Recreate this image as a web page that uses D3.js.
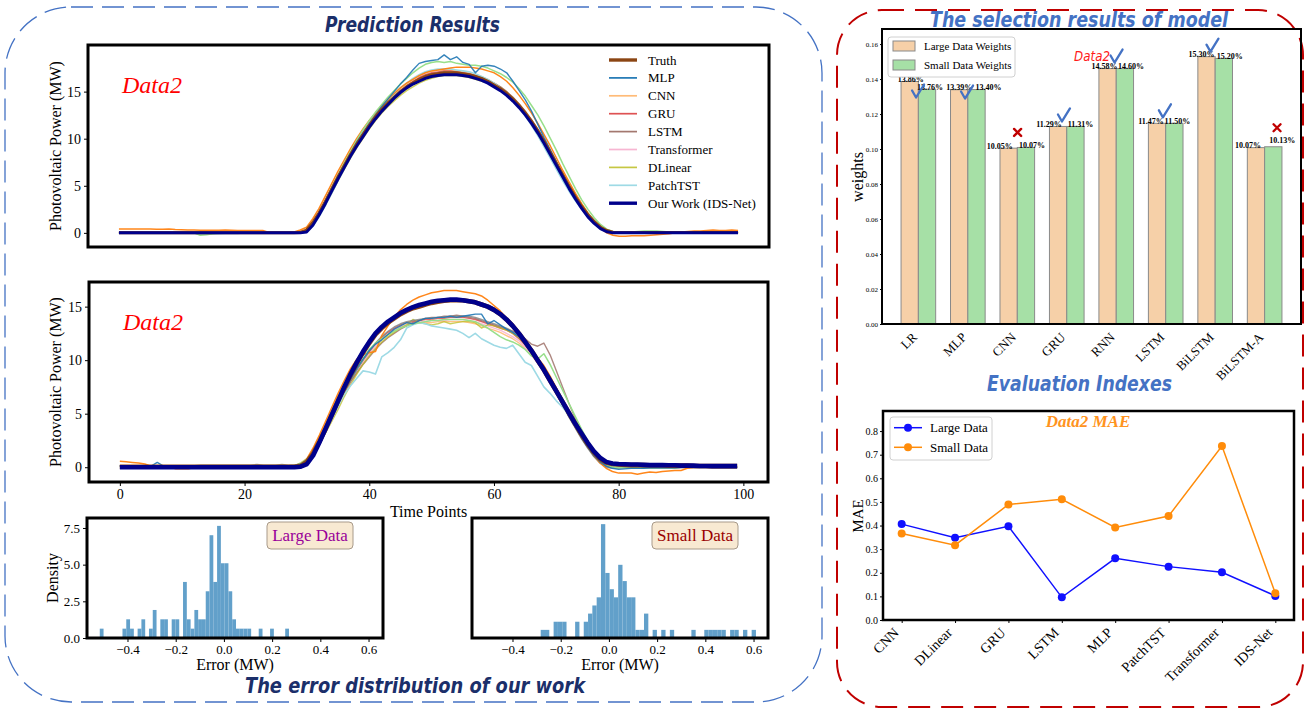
<!DOCTYPE html>
<html lang="en">
<head>
<meta charset="utf-8">
<title>IDS-Net prediction results</title>
<script src="https://cdn.jsdelivr.net/npm/d3@7"></script>
<style>
  body { margin: 0; background: #fff; }
  svg { display: block; }
</style>
</head>
<body>
<script>
// ================= data =================

// --- Data2, upper prediction plot (100 time points) ---
var truthA = [0.02,0.02,0.02,0.02,0.02,0.02,0.02,0.02,0.02,0.02,
  0.01,0.01,0.01,0.01,0.01,0.01,0.01,0.01,0.01,0.01,
  0.01,0.01,0.01,0.01,0.01,0.01,0.01,0.01,0.02,0.05,
  0.3,1.1,2.1,3.3,4.6,5.9,7.1,8.3,9.4,10.4,
  11.4,12.3,13.1,13.8,14.4,15.0,15.5,15.9,16.3,16.6,
  16.8,16.9,17.0,17.0,17.0,16.9,16.8,16.6,16.4,16.1,
  15.7,15.3,14.8,14.2,13.5,12.7,11.8,10.8,9.7,8.5,
  7.3,6.1,4.9,3.8,2.8,1.9,1.2,0.6,0.25,0.08,
  0.03,0.03,0.03,0.03,0.03,0.03,0.03,0.03,0.03,0.03,
  0.03,0.03,0.03,0.03,0.03,0.03,0.03,0.03,0.03,0.03];
var oursA = [0,0,0,0,0,0,0,0,0,0,
  0,0,0,0,0,0,0,0,0,0,
  0,0,0,0,0,0,0,0,0,0,
  0.1,0.8,1.9,3.1,4.4,5.7,6.9,8.1,9.2,10.2,
  11.2,12.1,12.9,13.6,14.3,14.9,15.4,15.8,16.1,16.4,
  16.6,16.7,16.8,16.8,16.8,16.7,16.6,16.4,16.2,15.9,
  15.5,15.1,14.6,14.0,13.3,12.5,11.6,10.6,9.5,8.3,
  7.1,5.9,4.7,3.6,2.6,1.7,1.0,0.45,0.12,0,
  0,0,0,0,0,0,0,0,0,0,
  0,0,0,0,0,0,0,0,0,0];
var mlpA = [-0.05,-0.05,-0.05,-0.05,-0.05,-0.05,-0.05,-0.05,-0.05,-0.05,
  -0.05,-0.05,-0.05,-0.05,-0.05,-0.05,-0.05,-0.05,-0.05,-0.05,
  -0.05,-0.05,-0.05,-0.05,-0.05,-0.05,-0.05,-0.05,0,0.05,
  0.3,1.1,2.2,3.4,4.7,6.0,7.2,8.4,9.6,10.6,
  11.6,12.5,13.4,14.2,15.0,15.8,16.5,17.3,18.0,18.2,
  18.3,18.4,18.9,18.4,18.7,18.1,17.9,17.0,17.7,17.8,
  17.7,17.4,17.0,16.1,15.1,14.1,12.9,11.5,10.1,8.8,
  7.5,6.2,5.0,3.9,2.9,2.0,1.2,0.6,0.2,0.05,
  0.02,0.02,0.02,0.02,0.02,0.02,0.02,0.02,0.02,0.02,
  0,0,0,0,0,0,0,0,0,0];
var cnnA = [0.05,0.05,0.05,0.05,0.05,0.05,0.05,0.05,0.05,0.05,
  0.05,0.05,0.05,0.05,0.05,0.05,0.05,0.05,0.05,0.05,
  0.05,0.05,0.05,0.05,0.05,0.05,0.05,0.05,0.05,0.1,
  0.2,0.9,2.0,3.2,4.5,5.8,7.1,8.3,9.5,10.6,
  11.6,12.5,13.3,14.0,14.7,15.3,15.8,16.3,16.7,17.0,
  17.2,17.3,17.3,17.3,17.2,17.1,17.0,16.8,16.6,16.3,
  15.9,15.5,15.0,14.4,13.7,12.9,12.0,11.0,9.9,8.7,
  7.5,6.3,5.1,4.0,3.0,2.1,1.3,0.7,0.3,0.1,
  0.05,0.05,0.05,0.05,0.05,0.05,0.05,0.05,0.05,0.05,
  0.05,0.05,0.05,0.05,0.05,0.05,0.05,0.05,0.05,0.05];
var gruA = [0.05,0.05,0.05,0.05,0.05,0.05,0.05,0.05,0.05,0.05,
  0.05,0.05,0.05,0.05,0.05,0.05,0.05,0.05,0.05,0.05,
  0.05,0.05,0.05,0.05,0.05,0.05,0.05,0.05,0.05,0.1,
  0.3,1.0,2.1,3.3,4.6,5.9,7.1,8.3,9.4,10.5,
  11.5,12.4,13.2,13.9,14.5,15.1,15.6,16.1,16.5,16.8,
  17.0,17.1,17.2,17.2,17.1,17.0,16.9,16.7,16.5,16.2,
  15.8,15.4,14.9,14.3,13.6,12.8,11.9,10.9,9.8,8.6,
  7.4,6.2,5.0,3.9,2.9,2.0,1.2,0.6,0.25,0.05,
  0.05,0.05,0.05,0.05,0.05,0.05,0.05,0.05,0.05,0.05,
  0.05,0.05,0.05,0.05,0.05,0.05,0.05,0.05,0.05,0.05];
var lstmA = [0.05,0.05,0.05,0.05,0.05,0.05,0.05,0.05,0.05,0.05,
  0.05,0.05,0.05,0.05,0.05,0.05,0.05,0.05,0.05,0.05,
  0.05,0.05,0.05,0.05,0.05,0.05,0.05,0.05,0.05,0.1,
  0.3,1.1,2.2,3.4,4.7,6.0,7.2,8.3,9.4,10.4,
  11.3,12.2,13.0,13.7,14.4,15.0,15.6,16.0,16.4,16.7,
  16.9,17.0,17.1,17.1,17.0,16.9,16.8,16.7,16.5,16.2,
  15.9,15.5,15.0,14.4,13.7,12.9,12.0,11.0,9.9,8.7,
  7.5,6.3,5.1,4.0,3.0,2.1,1.3,0.7,0.3,0.1,
  0.05,0.05,0.05,0.05,0.05,0.05,0.05,0.05,0.05,0.05,
  0.05,0.05,0.05,0.05,0.05,0.05,0.05,0.05,0.05,0.05];
var transA = [0.05,0.05,0.05,0.05,0.05,0.05,0.05,0.05,0.05,0.05,
  0.05,0.05,0.05,0.05,0.05,0.05,0.05,0.05,0.05,0.05,
  0.05,0.05,0.05,0.05,0.05,0.05,0.05,0.05,0.05,0.1,
  0.2,0.9,1.9,3.1,4.4,5.7,6.9,8.1,9.2,10.2,
  11.2,12.1,12.9,13.6,14.3,14.9,15.4,15.9,16.3,16.6,
  16.8,16.9,17.0,17.0,16.9,16.8,16.7,16.5,16.3,16.0,
  15.6,15.2,14.7,14.1,13.4,12.6,11.7,10.7,9.6,8.4,
  7.2,6.0,4.8,3.7,2.7,1.8,1.1,0.5,0.15,0,
  0.05,0.05,0.05,0.05,0.05,0.05,0.05,0.05,0.05,0.05,
  0.05,0.05,0.05,0.05,0.05,0.05,0.05,0.05,0.05,0.05];
var dlinA = [0.05,0.05,0.05,0.05,0.05,0.05,0.05,0.05,0.05,0.05,
  0.05,0.05,0.05,0.05,0.05,0.05,0.05,0.05,0.05,0.05,
  0.05,0.05,0.05,0.05,0.05,0.05,0.05,0.05,0.05,0.1,
  0.2,0.8,1.8,3.0,4.2,5.5,6.7,7.9,9.0,10.0,
  11.0,11.9,12.7,13.4,14.0,14.6,15.1,15.5,15.9,16.2,
  16.4,16.6,16.7,16.7,16.7,16.6,16.5,16.3,16.1,15.9,
  15.5,15.1,14.6,14.0,13.3,12.5,11.6,10.6,9.6,8.5,
  7.3,6.1,5.0,3.9,2.9,2.0,1.3,0.7,0.3,0.1,
  0.05,0.05,0.05,0.05,0.05,0.05,0.05,0.05,0.05,0.05,
  0.05,0.05,0.05,0.05,0.05,0.05,0.05,0.05,0.05,0.05];
var patchA = [0,0,0,0,0,0,0,0,0,0,
  0,0,0,-0.15,-0.15,-0.1,-0.1,-0.05,-0.05,-0.05,
  0,0,0,0,0,0,0,0,0,0,
  0.1,0.7,1.7,2.9,4.2,5.5,6.8,8.0,9.2,10.3,
  11.3,12.2,13.1,13.9,14.7,15.4,15.9,16.4,16.8,17.1,
  17.3,17.4,17.4,17.4,17.3,17.2,17.1,16.9,16.6,16.3,
  15.9,15.4,14.8,14.1,13.3,12.4,11.4,10.3,9.1,7.9,
  6.7,5.5,4.4,3.4,2.5,1.7,1.0,0.5,0.15,0,
  0,0,0,0,0,0,0,0,0,0,
  0,0,0,0,0,0,0,0,0,0];
var orangeA = [0.42,0.42,0.40,0.40,0.42,0.40,0.38,0.38,0.42,0.35,
  0.33,0.30,0.30,0.28,0.28,0.28,0.28,0.30,0.28,0.25,
  0.25,0.25,0.25,0.25,0.05,0.05,0.05,0.05,0.1,0.3,
  0.6,1.5,2.6,3.9,5.2,6.5,7.7,8.9,10.0,11.0,
  11.9,12.7,13.5,14.2,14.8,15.4,15.9,16.3,16.7,17.0,
  17.2,17.3,17.4,17.5,17.6,17.6,17.6,17.5,17.4,17.2,
  17.0,16.6,16.1,15.4,14.6,13.7,12.7,11.6,10.4,9.2,
  7.9,6.6,5.4,4.2,3.1,2.1,1.2,0.5,0,-0.25,
  -0.35,-0.35,-0.3,-0.3,-0.3,-0.25,-0.2,-0.15,-0.1,0,
  0.1,0.15,0.2,0.2,0.25,0.3,0.25,0.25,0.3,0.25];
var greenA = [0,0,0,0,0,0,0,0,0,0,
  0,0,0,-0.25,-0.2,-0.1,-0.05,-0.05,-0.05,-0.05,
  -0.05,-0.05,-0.05,-0.05,-0.05,-0.05,-0.05,-0.05,0,0.1,
  0.3,1.0,2.1,3.4,4.8,6.1,7.4,8.6,9.8,10.9,
  11.9,12.8,13.6,14.4,15.1,15.8,16.4,17.0,17.5,17.9,
  18.1,18.2,18.1,18.2,18.0,17.9,17.8,17.8,17.7,17.5,
  17.2,16.9,16.5,16.0,15.3,14.5,13.5,12.5,11.3,10.0,
  8.7,7.3,6.0,4.7,3.5,2.5,1.6,0.9,0.4,0.15,
  0.1,0.1,0.1,0.15,0.2,0.2,0.2,0.15,0.1,0.1,
  0.1,0.1,0.1,0.1,0.1,0.1,0.1,0.1,0.1,0.1];
var grayA = [0,0,0,0,0,0,0,0,0,0,
  0,0,0,0,0,0,0,0,0,0,
  0,0,0,0,0,0,0,0,0.05,0.1,
  0.3,1.0,2.0,3.2,4.5,5.8,7.0,8.1,9.2,10.2,
  11.1,12.0,12.8,13.5,14.2,14.8,15.3,15.8,16.2,16.5,
  16.7,16.8,16.9,17.0,17.0,16.9,16.8,16.6,16.4,16.2,
  15.8,15.4,14.9,14.3,13.6,12.8,11.9,10.9,9.8,8.6,
  7.4,6.2,5.0,3.9,2.9,2.0,1.2,0.6,0.2,0.05,
  0.05,0.05,0.05,0.05,0.05,0.05,0.05,0.05,0.05,0.05,
  0.05,0.05,0.05,0.05,0.05,0.05,0.05,0.05,0.05,0.05];

// --- Data2, lower prediction plot ---
var truthB = [0.05,0.05,0.05,0.05,0.05,0.05,0.05,0.05,0.05,0.05,
  0.05,0.05,0.05,0.05,0.05,0.05,0.05,0.05,0.05,0.05,
  0.05,0.05,0.05,0.05,0.05,0.05,0.05,0.05,0.05,0.1,
  0.5,1.3,2.4,3.6,4.9,6.2,7.4,8.6,9.7,10.7,
  11.6,12.4,13.0,13.5,13.9,14.3,14.6,14.85,15.0,15.2,
  15.35,15.45,15.55,15.6,15.6,15.6,15.5,15.4,15.2,15.0,
  14.7,14.3,13.8,13.2,12.5,11.7,10.9,10.0,9.1,8.1,
  7.1,6.1,5.1,4.1,3.1,2.2,1.4,0.8,0.45,0.3,
  0.25,0.22,0.2,0.2,0.2,0.18,0.18,0.18,0.15,0.15,
  0.15,0.15,0.12,0.12,0.12,0.1,0.1,0.1,0.1,0.1];
var oursB = [0,0,0,0,0,0,0,0,0,0,
  0,0,0,0,0,0,0,0,0,0,
  0,0,0,0,0,0,0,0,0,0.05,
  0.3,1.1,2.3,3.6,4.9,6.2,7.5,8.7,9.8,10.8,
  11.7,12.5,13.1,13.6,14.0,14.4,14.7,14.95,15.15,15.3,
  15.45,15.55,15.6,15.65,15.65,15.6,15.5,15.4,15.2,15.0,
  14.7,14.3,13.8,13.2,12.5,11.7,10.9,10.0,9.1,8.1,
  7.1,6.1,5.1,4.1,3.2,2.3,1.5,0.9,0.5,0.35,
  0.3,0.28,0.25,0.25,0.22,0.2,0.2,0.2,0.18,0.18,
  0.15,0.15,0.15,0.12,0.12,0.1,0.1,0.1,0.1,0.1];
var mlpB = [0.15,0.1,0.1,0.05,0.05,0.1,0.45,0.1,0.05,0.05,
  0.05,0.05,0.05,0.05,0.05,0.05,0.05,0.05,0.05,0.05,
  0.05,0.05,0.05,0.05,0.05,0.1,0.1,0.05,0.1,0.3,
  0.7,1.4,2.4,3.5,4.7,5.9,7.1,8.2,9.2,10.1,
  10.9,11.5,11.9,12.4,12.9,13.2,13.5,13.4,13.7,13.9,
  13.9,14.0,14.0,14.1,14.0,14.1,14.2,14.3,14.3,13.4,
  13.7,13.3,12.9,12.6,12.2,11.5,10.7,9.9,9.0,8.0,
  7.0,5.9,4.8,3.8,2.8,1.9,1.1,0.5,0.1,-0.1,
  -0.2,-0.15,-0.1,-0.1,-0.1,-0.05,-0.05,-0.05,-0.05,-0.05,
  0,0,0,0,0,0,0,0,0,0];
var cnnB = [0.1,0.1,0.1,0.1,0.1,0.1,0.1,0.1,0.1,-0.2,
  -0.2,-0.2,0.05,0.05,0.05,0.05,0.05,0.05,0.05,0.05,
  0.05,0.05,0.05,0.05,0.05,0.05,0.05,0.05,0.1,0.3,
  0.7,1.4,2.3,3.4,4.5,5.7,6.8,7.9,8.9,9.8,
  10.6,11.3,11.9,12.4,12.8,13.1,13.3,13.4,13.5,13.5,
  13.5,13.6,13.6,13.6,13.6,13.6,13.5,13.4,13.2,13.0,
  12.8,12.6,12.3,12.0,11.6,11.1,10.5,9.8,9.0,8.1,
  7.1,6.0,4.9,3.8,2.8,1.9,1.1,0.5,0.1,0,
  0,0,0,0,0,0,0,0,0,0,
  0,0,0,0,0,0,0,0,0,0];
var gruB = [0.1,0.1,0.1,0.1,0.1,0.1,0.1,0.1,0.1,0.1,
  0.1,0.1,0.1,0.1,0.1,0.1,0.1,0.1,0.1,0.1,
  0.1,0.1,0.1,0.1,0.1,0.1,0.1,0.1,0.15,0.3,
  0.6,1.3,2.3,3.4,4.6,5.8,7.0,8.1,9.1,10.0,
  10.8,11.5,12.1,12.6,13.0,13.3,13.5,13.6,13.7,13.8,
  13.8,13.9,13.9,14.0,14.0,14.0,13.9,13.8,13.6,13.4,
  13.2,13.0,12.8,12.5,12.0,11.4,10.7,9.9,9.0,8.0,
  7.0,5.9,4.8,3.8,2.8,1.9,1.1,0.5,0.1,0,
  0,0,0,0,0,0,0,0,0,0,
  0,0,0,0,0,0,0,0,0,0];
var lstmB = [0.15,0.15,0.15,0.15,0.15,0.15,0.15,0.15,0.15,0.15,
  0.15,0.15,0.15,0.15,0.15,0.15,0.15,0.15,0.15,0.15,
  0.15,0.15,0.15,0.15,0.15,0.15,0.15,0.15,0.2,0.3,
  0.7,1.4,2.4,3.5,4.7,5.9,7.0,8.0,8.8,9.6,
  10.3,11.0,11.6,12.1,12.5,12.9,13.2,13.5,13.7,13.9,
  14.0,14.0,14.1,14.1,14.2,14.1,14.0,13.9,13.7,13.5,
  13.3,13.1,12.9,12.7,12.4,12.0,11.5,11.3,11.6,10.5,
  9.0,7.5,6.0,4.6,3.3,2.2,1.3,0.6,0.2,0.05,
  0.05,0.05,0.05,0.05,0.05,0.05,0.05,0.05,0.05,0.05,
  0.05,0.05,0.05,0.05,0.05,0.05,0.05,0.05,0.05,0.05];
var transB = [0.1,0.1,0.1,0.1,0.1,0.1,0.1,0.1,0.1,0.1,
  0.1,0.1,0.1,0.1,0.1,0.1,0.1,0.1,0.1,0.1,
  0.1,0.1,0.1,0.1,0.1,0.1,0.1,0.1,0.15,0.3,
  0.6,1.3,2.2,3.3,4.4,5.6,6.8,7.9,8.9,9.8,
  10.6,11.3,11.9,12.4,12.8,13.1,13.3,13.5,13.6,13.6,
  13.7,13.7,13.7,13.8,13.8,13.8,13.7,13.6,13.4,13.2,
  13.0,12.8,12.5,12.2,11.8,11.2,10.5,9.7,8.9,8.0,
  7.0,5.9,4.8,3.8,2.8,1.9,1.1,0.5,0.1,0,
  0.05,0.05,0.05,0.05,0.05,0.05,0.05,0.05,0.05,0.05,
  0.05,0.05,0.05,0.05,0.05,0.05,0.05,0.05,0.05,0.05];
var dlinB = [0.1,0.1,0.1,0.1,0.1,0.1,0.1,0.1,0.1,0.1,
  0.1,0.1,0.1,0.1,0.1,0.1,0.1,0.1,0.1,0.1,
  0.1,0.1,0.1,0.1,0.1,0.1,0.1,0.1,0.15,0.4,
  0.8,1.4,2.2,3.2,4.3,5.4,6.6,7.7,8.7,9.6,
  10.4,11.1,11.7,12.2,12.6,13.0,13.3,13.8,13.5,13.4,
  13.3,13.4,13.6,13.4,13.5,13.6,13.6,13.5,13.0,13.3,
  13.2,13.0,12.8,12.5,12.1,11.5,10.7,9.8,9.0,8.0,
  7.0,5.9,4.8,3.8,2.8,1.9,1.1,0.5,0.1,0,
  0,0,0,0,0,0,0,0,0,0,
  0,0,0,0,0,0,0,0,0,0];
var patchB = [0.05,0.05,0.05,0.05,0.05,0.05,0.05,0.05,0.05,0.05,
  0.05,0.05,0.05,0.05,0.05,0.05,0.05,0.05,0.05,0.05,
  0.05,0.05,0.05,0.05,0.05,0.05,0.05,0.05,0.1,0.2,
  0.6,1.3,2.2,3.3,4.5,5.7,6.8,7.6,8.3,9.0,
  8.9,8.7,10.3,10.7,11.2,11.9,13.0,13.3,13.5,13.4,
  13.2,13.1,13.0,12.9,12.8,12.5,12.1,12.5,12.0,11.7,
  11.4,11.2,11.1,11.4,10.6,9.8,9.5,8.5,7.5,6.9,
  6.2,5.6,4.9,4.1,3.2,2.3,1.5,0.8,0.3,0.05,
  0,-0.05,-0.05,-0.05,0,0,0,0,0,0,
  0,0,0,0,0,0,0,0,0,0];
var orangeB = [0.55,0.5,0.45,0.4,0.3,0.1,0.05,0,0,0,
  0,0,0,0,0,0,0,0,0,0,
  -0.05,-0.05,-0.05,-0.05,-0.05,-0.05,-0.05,-0.05,0,0.2,
  0.8,1.8,3.0,4.3,5.6,6.9,8.1,9.2,10.1,10.5,
  10.7,10.8,12.3,13.2,14.0,14.7,15.2,15.6,15.9,16.1,
  16.3,16.4,16.5,16.5,16.5,16.4,16.3,16.2,16.0,15.6,
  15.1,14.6,13.9,13.1,12.3,11.6,10.9,10.2,9.5,8.5,
  7.4,6.3,5.2,4.1,3.0,2.0,1.1,0.4,-0.1,-0.4,
  -0.55,-0.55,-0.55,-0.65,-0.55,-0.45,-0.5,-0.4,-0.35,-0.3,
  -0.3,-0.1,0,0.05,0.1,0.1,0.1,0.1,0.1,0.1];
var greenB = [0.1,0.1,0.1,0.1,0.1,0.1,0.1,0.1,0.1,0.1,
  0.1,0.1,0.1,0.1,0.1,0.1,0.1,0.1,0.1,0.1,
  0.1,0.1,0.1,0.1,0.1,0.1,0.1,0.1,0.15,0.3,
  0.7,1.4,2.4,3.5,4.7,5.9,7.1,8.2,9.2,10.1,
  11.0,11.6,12.0,12.4,12.7,13.0,13.2,13.4,13.5,13.6,
  13.7,13.7,13.8,13.8,13.8,13.8,13.7,13.6,13.3,13.0,
  12.6,12.2,11.9,11.7,11.4,11.0,10.4,10.1,10.6,9.6,
  8.4,7.2,6.0,4.8,3.6,2.5,1.5,0.8,0.3,0,
  -0.05,-0.05,-0.05,-0.05,-0.05,-0.05,-0.05,-0.05,-0.05,-0.05,
  0,0,0,0,0,0,0,0,0,0];
var grayB = [0.1,0.1,0.1,0.1,0.1,0.1,0.1,0.1,0.1,0.1,
  0.1,0.1,0.15,0.2,0.2,0.2,0.2,0.2,0.2,0.2,
  0.2,0.2,0.25,0.2,0.2,0.2,0.25,0.2,0.2,0.3,
  0.6,1.3,2.3,3.4,4.6,5.8,7.0,8.1,9.1,10.0,
  10.8,11.6,12.2,12.7,13.1,13.4,13.6,13.7,13.8,13.9,
  13.9,14.0,14.0,14.1,14.1,14.1,14.1,14.0,13.8,13.6,
  13.4,13.2,13.0,12.7,12.2,11.6,10.9,10.0,9.0,8.0,
  6.9,5.8,4.7,3.7,2.7,1.8,1.0,0.4,0,-0.1,
  -0.1,-0.1,-0.1,-0.1,-0.1,-0.1,-0.1,-0.1,-0.1,-0.1,
  -0.05,-0.05,-0.05,-0.05,-0.05,-0.05,-0.05,-0.05,-0.05,-0.05];

var timeTicks = [0, 20, 40, 60, 80, 100];
var powerTicks = [0, 5, 10, 15];
var legendNames = ["Truth", "MLP", "CNN", "GRU", "LSTM", "Transformer", "DLinear", "PatchTST", "Our Work (IDS-Net)"];

// --- error histograms (counts in 50 equal bins) ---
var largeCounts = [1,0,0,0,0,0,1,2,1,0, 1,2,0,1,3,0,2,2,0,2, 2,0,6,2,1,3,2,2,5,11,
  6,12,8,8,5,2,1,1,1,1, 0,0,1,0,0,1,0,0,0,1];
var largeRange = [-0.515, 0.27];
var smallCounts = [1,1,0,2,2,2,0,0,2,0, 2,3,4,5,14,8,6,5,9,7, 5,5,1,1,3,0,1,0,1,0,
  1,0,0,0,0,1,0,0,1,1, 1,1,1,0,1,1,0,1,0,1];
var smallRange = [-0.283, 0.61];
var errorTicks = [-0.4, -0.2, 0.0, 0.2, 0.4, 0.6];
var densityTicks = [0, 2.5, 5, 7.5];

// --- model selection weights ---
var selModels = ["LR", "MLP", "CNN", "GRU", "RNN", "LSTM", "BiLSTM", "BiLSTM-A"];
var largeWeights = [0.1386, 0.1339, 0.1005, 0.1129, 0.1460, 0.1147, 0.1528, 0.1008];
var smallWeights = [0.1342, 0.1340, 0.1009, 0.1129, 0.1460, 0.1147, 0.1518, 0.1013];
var largeLabels = ["13.86%", "13.39%", "10.05%", "11.29%", "14.58%", "11.47%", "15.30%", "10.07%"];
var smallLabels = ["13.76%", "13.40%", "10.07%", "11.31%", "14.60%", "11.50%", "15.20%", "10.13%"];
var selMarks = ["check", "check", "cross", "check", "check", "check", "check", "cross"];
var weightTicks = [0, 0.02, 0.04, 0.06, 0.08, 0.10, 0.12, 0.14, 0.16];

// --- MAE ---
var maeModels = ["CNN", "DLinear", "GRU", "LSTM", "MLP", "PatchTST", "Transformer", "IDS-Net"];
var maeLarge = [0.406, 0.348, 0.397, 0.096, 0.261, 0.226, 0.202, 0.102];
var maeSmall = [0.366, 0.317, 0.489, 0.511, 0.392, 0.440, 0.737, 0.113];
var maeTicks = [0, 0.1, 0.2, 0.3, 0.4, 0.5, 0.6, 0.7, 0.8];

// ================= styles / layout =================
var SERIF = "'Liberation Serif', 'Times New Roman', serif";
var COMIC = "'Comic Sans MS', 'DejaVu Sans', sans-serif";

var lineStyle = {
  truth:  { color: "#8b4513", width: 3,   opacity: 1 },
  mlp:    { color: "#1f77b4", width: 1.4, opacity: 0.9 },
  cnn:    { color: "#ffbb78", width: 1.4, opacity: 0.9 },
  gru:    { color: "#d62728", width: 1.4, opacity: 0.7 },
  lstm:   { color: "#8c564b", width: 1.4, opacity: 0.7 },
  trans:  { color: "#f7b6d2", width: 1.4, opacity: 0.9 },
  dlin:   { color: "#bcbd22", width: 1.4, opacity: 0.75 },
  patch:  { color: "#9edae5", width: 1.6, opacity: 1 },
  orange: { color: "#ff7f0e", width: 1.5, opacity: 0.95 },
  green:  { color: "#98df8a", width: 1.5, opacity: 1 },
  gray:   { color: "#7f7f7f", width: 1.4, opacity: 0.8 },
  ours:   { color: "#00008b", width: 3,   opacity: 1 }
};
var legendKeys = ["truth", "mlp", "cnn", "gru", "lstm", "trans", "dlin", "patch", "ours"];
var drawOrder = ["cnn", "gru", "trans", "lstm", "dlin", "gray", "patch", "orange", "green", "mlp", "truth", "ours"];

var predA = { truth: truthA, mlp: mlpA, cnn: cnnA, gru: gruA, lstm: lstmA, trans: transA,
  dlin: dlinA, patch: patchA, orange: orangeA, green: greenA, gray: grayA, ours: oursA };
var predB = { truth: truthB, mlp: mlpB, cnn: cnnB, gru: gruB, lstm: lstmB, trans: transB,
  dlin: dlinB, patch: patchB, orange: orangeB, green: greenB, gray: grayB, ours: oursB };

// ================= drawing =================
var svg = d3.select("body").append("svg")
  .attr("width", 1307)
  .attr("height", 708);

function styleAxis(a, size) {
  a.attr("font-family", SERIF).attr("font-size", size);
  a.select(".domain").remove();
  a.selectAll(".tick line").attr("stroke", "#000");
  a.selectAll(".tick text").attr("fill", "#000");
}

function frame(f, w) {
  svg.append("rect")
    .attr("x", f.x0).attr("y", f.y0)
    .attr("width", f.x1 - f.x0).attr("height", f.y1 - f.y0)
    .attr("fill", "none").attr("stroke", "#000").attr("stroke-width", w);
}

function title(text, x0, x1, y, color) {
  svg.append("text")
    .attr("x", x0).attr("y", y)
    .attr("textLength", x1 - x0).attr("lengthAdjust", "spacingAndGlyphs")
    .attr("font-family", COMIC).attr("font-size", 21)
    .attr("font-weight", "bold").attr("font-style", "italic")
    .attr("fill", color)
    .text(text);
}

function vLabel(text, x, y, size) {
  svg.append("text")
    .attr("transform", "translate(" + x + "," + y + ") rotate(-90)")
    .attr("text-anchor", "middle")
    .attr("font-family", SERIF).attr("font-size", size)
    .text(text);
}

// dashed panels
svg.append("rect")
  .attr("x", 5).attr("y", 7).attr("width", 817).attr("height", 695).attr("rx", 66)
  .attr("fill", "none").attr("stroke", "#4472c4").attr("stroke-width", 1.3)
  .attr("stroke-dasharray", "22,9");
svg.append("rect")
  .attr("x", 837).attr("y", 10).attr("width", 466).attr("height", 697).attr("rx", 45)
  .attr("fill", "none").attr("stroke", "#c00000").attr("stroke-width", 2)
  .attr("stroke-dasharray", "22,11");

title("Prediction Results", 325, 500, 32, "#1b2f6a");
title("The error distribution of our work", 245, 585, 693, "#1b2f6a");
title("The selection results of model", 930, 1228, 27, "#4472c4");
title("Evaluation Indexes", 987, 1172, 391, "#4472c4");

// ---------- prediction plots ----------
function prediction(f, data, yDomain, showX, thick) {
  var x = d3.scaleLinear().domain([-4.95, 103.95]).range([f.x0, f.x1]);
  var y = d3.scaleLinear().domain(yDomain).range([f.y1, f.y0]);
  var line = d3.line()
    .x(function(d, i) { return x(i); })
    .y(function(d) { return y(d); });

  drawOrder.forEach(function(k) {
    var s = lineStyle[k];
    var w = (k === "truth" || k === "ours") ? thick : s.width;
    svg.append("path")
      .datum(data[k])
      .attr("d", line)
      .attr("fill", "none")
      .attr("stroke", s.color)
      .attr("stroke-width", w)
      .attr("stroke-opacity", s.opacity)
      .attr("stroke-linejoin", "round");
  });

  var ay = svg.append("g")
    .attr("transform", "translate(" + f.x0 + ",0)")
    .call(d3.axisLeft(y).tickValues(powerTicks).tickSize(4).tickFormat(d3.format("d")));
  styleAxis(ay, 14);

  if (showX) {
    var ax = svg.append("g")
      .attr("transform", "translate(0," + f.y1 + ")")
      .call(d3.axisBottom(x).tickValues(timeTicks).tickSize(4).tickFormat(d3.format("d")));
    styleAxis(ax, 14);
  }

  frame(f, 3);
  svg.append("text")
    .attr("x", f.x0 + 34).attr("y", f.y0 + 48)
    .attr("font-family", SERIF).attr("font-size", 24).attr("font-style", "italic")
    .attr("fill", "#ff0000")
    .text("Data2");
  vLabel("Photovoltaic Power (MW)", 61, (f.y0 + f.y1) / 2, 16);
}

var fA = { x0: 88, x1: 769, y0: 45, y1: 247 };
var fB = { x0: 89, x1: 768, y0: 282, y1: 482 };
prediction(fA, predA, [-1.5, 19.95], false, 3);
prediction(fB, predB, [-1.38, 17.3], true, 4.6);

svg.append("text")
  .attr("x", (fB.x0 + fB.x1) / 2).attr("y", 517)
  .attr("text-anchor", "middle")
  .attr("font-family", SERIF).attr("font-size", 16)
  .text("Time Points");

// legend of the upper plot
var leg = svg.append("g").attr("transform", "translate(609,60)");
legendKeys.forEach(function(k, i) {
  var s = lineStyle[k];
  leg.append("line")
    .attr("x1", 0).attr("x2", 28)
    .attr("y1", i * 17.9).attr("y2", i * 17.9)
    .attr("stroke", s.color).attr("stroke-width", s.width === 3 ? 3.4 : 1.7)
    .attr("stroke-opacity", Math.min(1, s.opacity + 0.1));
  leg.append("text")
    .attr("x", 39).attr("y", i * 17.9)
    .attr("dy", "0.35em")
    .attr("font-family", SERIF).attr("font-size", 13)
    .text(legendNames[i]);
});

// ---------- error histograms ----------
function histogram(f, counts, range, showY, label, labelColor) {
  var x = d3.scaleLinear().domain([-0.568, 0.66]).range([f.x0, f.x1]);
  var y = d3.scaleLinear().domain([0, 8.18]).range([f.y1, f.y0]);
  var n = d3.sum(counts);
  var w = (range[1] - range[0]) / counts.length;

  svg.append("g").selectAll("rect")
    .data(counts)
    .enter()
    .append("rect")
    .attr("x", function(d, i) { return x(range[0] + i * w); })
    .attr("width", function(d, i) { return x(range[0] + (i + 1) * w) - x(range[0] + i * w); })
    .attr("y", function(d) { return y(d / (n * w)); })
    .attr("height", function(d) { return y(0) - y(d / (n * w)); })
    .attr("fill", "#62a0ca");

  var ax = svg.append("g")
    .attr("transform", "translate(0," + f.y1 + ")")
    .call(d3.axisBottom(x).tickValues(errorTicks).tickSize(4).tickFormat(d3.format(".1f")));
  styleAxis(ax, 13);

  if (showY) {
    var ay = svg.append("g")
      .attr("transform", "translate(" + f.x0 + ",0)")
      .call(d3.axisLeft(y).tickValues(densityTicks).tickSize(4).tickFormat(d3.format(".1f")));
    styleAxis(ay, 13);
    vLabel("Density", 58, (f.y0 + f.y1) / 2, 16);
  }

  frame(f, 3);

  svg.append("rect")
    .attr("x", f.x1 - 116).attr("y", f.y0 + 4)
    .attr("width", 86).attr("height", 27).attr("rx", 4)
    .attr("fill", "#f8e9d2").attr("stroke", "#a89a8a").attr("stroke-width", 1);
  svg.append("text")
    .attr("x", f.x1 - 73).attr("y", f.y0 + 23)
    .attr("text-anchor", "middle")
    .attr("font-family", SERIF).attr("font-size", 17)
    .attr("fill", labelColor)
    .text(label);

  svg.append("text")
    .attr("x", (f.x0 + f.x1) / 2).attr("y", 670)
    .attr("text-anchor", "middle")
    .attr("font-family", SERIF).attr("font-size", 16)
    .text("Error (MW)");
}

histogram({ x0: 87, x1: 383, y0: 518, y1: 638 }, largeCounts, largeRange, true, "Large Data", "#990099");
histogram({ x0: 472, x1: 768, y0: 518, y1: 638 }, smallCounts, smallRange, false, "Small Data", "#9a0000");

// ---------- model selection bars ----------
var fW = { x0: 882, x1: 1301, y0: 29, y1: 324 };
var xW = d3.scaleLinear().domain([-0.735, 7.735]).range([fW.x0, fW.x1]);
var yW = d3.scaleLinear().domain([0, 0.1686]).range([fW.y1, fW.y0]);
var barW = 0.35;

svg.append("g").selectAll("rect")
  .data(largeWeights).enter().append("rect")
  .attr("x", function(d, i) { return xW(i - barW); })
  .attr("width", xW(barW) - xW(0))
  .attr("y", function(d) { return yW(d); })
  .attr("height", function(d) { return yW(0) - yW(d); })
  .attr("fill", "#f6d0a8").attr("stroke", "#8a8a8a").attr("stroke-width", 1);
svg.append("g").selectAll("rect")
  .data(smallWeights).enter().append("rect")
  .attr("x", function(d, i) { return xW(i); })
  .attr("width", xW(barW) - xW(0))
  .attr("y", function(d) { return yW(d); })
  .attr("height", function(d) { return yW(0) - yW(d); })
  .attr("fill", "#a6e0a6").attr("stroke", "#8a8a8a").attr("stroke-width", 1);

var ayW = svg.append("g")
  .attr("transform", "translate(" + fW.x0 + ",0)")
  .call(d3.axisLeft(yW).tickValues(weightTicks).tickSize(2).tickPadding(2).tickFormat(d3.format(".2f")));
styleAxis(ayW, 7);

frame(fW, 2);

// value labels (nudged sideways like the original)
var dxL = [1, 0, -9, -9, -3, -6, -5, -8];
var dxS = [3, 12, 6, 5, 6, 3, 6, 9];
var dyS = [0, 0, 0, 0, 0, 0, 0, -4];
largeLabels.forEach(function(t, i) {
  svg.append("text")
    .attr("x", xW(i - barW / 2) + dxL[i]).attr("y", yW(largeWeights[i]) + 0.5)
    .attr("text-anchor", "middle")
    .attr("font-family", SERIF).attr("font-size", 8).attr("font-weight", "bold")
    .text(t);
});
smallLabels.forEach(function(t, i) {
  svg.append("text")
    .attr("x", xW(i + barW / 2) + dxS[i]).attr("y", yW(smallWeights[i]) + 0.5 + dyS[i])
    .attr("text-anchor", "middle")
    .attr("font-family", SERIF).attr("font-size", 8).attr("font-weight", "bold")
    .text(t);
});

// check / cross marks
var markDx = [-0.3, -0.8, 0.3, -2.8, 0.3, -0.8, -2.7, 12.4];
var markDy = [16, 9, -15, -5, -6, -6, -5, -19];
selMarks.forEach(function(m, i) {
  var cx = xW(i) + markDx[i];
  var top = Math.min(yW(largeWeights[i]), yW(smallWeights[i]));
  var by = top + markDy[i];
  if (m === "check") {
    svg.append("path")
      .attr("d", "M" + (cx - 6) + "," + (by - 7) + " L" + (cx - 2) + "," + by + " L" + (cx + 6) + "," + (by - 13))
      .attr("fill", "none").attr("stroke", "#4472c4").attr("stroke-width", 2.3)
      .attr("stroke-linecap", "round").attr("stroke-linejoin", "round");
  } else {
    svg.append("path")
      .attr("d", "M" + (cx - 3.5) + "," + (by - 3.5) + " L" + (cx + 3.5) + "," + (by + 3.5) +
                 " M" + (cx + 3.5) + "," + (by - 3.5) + " L" + (cx - 3.5) + "," + (by + 3.5))
      .attr("stroke", "#c00000").attr("stroke-width", 2.4).attr("stroke-linecap", "round");
  }
});
svg.append("text")
  .attr("x", 1074).attr("y", 61)
  .attr("textLength", 36).attr("lengthAdjust", "spacingAndGlyphs")
  .attr("font-family", COMIC).attr("font-size", 14).attr("font-style", "italic")
  .attr("fill", "#ff1a1a")
  .text("Data2");

svg.append("g").selectAll("text")
  .data(selModels).enter().append("text")
  .attr("transform", function(d, i) { return "translate(" + (xW(i) - 0.5) + ",338) rotate(-45)"; })
  .attr("text-anchor", "end")
  .attr("font-family", SERIF).attr("font-size", 13)
  .text(function(d) { return d; });

vLabel("weights", 863, 177, 16);

// bar legend
svg.append("rect")
  .attr("x", 888).attr("y", 37).attr("width", 127).attr("height", 40).attr("rx", 3)
  .attr("fill", "#fff").attr("stroke", "#d0d0d0");
[["Large Data Weights", "#f6d0a8"], ["Small Data Weights", "#a6e0a6"]].forEach(function(e, i) {
  svg.append("rect")
    .attr("x", 893).attr("y", 41 + i * 19).attr("width", 22).attr("height", 10)
    .attr("fill", e[1]).attr("stroke", "#8a8a8a");
  svg.append("text")
    .attr("x", 924).attr("y", 46 + i * 19).attr("dy", "0.35em")
    .attr("font-family", SERIF).attr("font-size", 11)
    .text(e[0]);
});

// ---------- MAE plot ----------
var fM = { x0: 883, x1: 1294, y0: 411, y1: 620 };
var xM = d3.scaleLinear().domain([-0.35, 7.35]).range([fM.x0, fM.x1]);
var yM = d3.scaleLinear().domain([0, 0.885]).range([fM.y1, fM.y0]);
var maeLine = d3.line()
  .x(function(d, i) { return xM(i); })
  .y(function(d) { return yM(d); });

[[maeLarge, "#1010ff"], [maeSmall, "#ff8c0a"]].forEach(function(p) {
  svg.append("path").datum(p[0])
    .attr("d", maeLine).attr("fill", "none")
    .attr("stroke", p[1]).attr("stroke-width", 1.5);
  svg.append("g").selectAll("circle")
    .data(p[0]).enter().append("circle")
    .attr("cx", function(d, i) { return xM(i); })
    .attr("cy", function(d) { return yM(d); })
    .attr("r", 4)
    .attr("fill", p[1]);
});

var ayM = svg.append("g")
  .attr("transform", "translate(" + fM.x0 + ",0)")
  .call(d3.axisLeft(yM).tickValues(maeTicks).tickSize(3).tickPadding(2).tickFormat(d3.format(".1f")));
styleAxis(ayM, 10);
var axM = svg.append("g")
  .attr("transform", "translate(0," + fM.y1 + ")")
  .call(d3.axisBottom(xM).tickValues(d3.range(maeModels.length)).tickSize(3).tickFormat(""));
styleAxis(axM, 10);

frame(fM, 2.5);

svg.append("g").selectAll("text")
  .data(maeModels).enter().append("text")
  .attr("transform", function(d, i) { return "translate(" + (xM(i) - 2) + ",633.5) rotate(-45)"; })
  .attr("text-anchor", "end")
  .attr("font-family", SERIF).attr("font-size", 14)
  .text(function(d) { return d; });

vLabel("MAE", 863, 516, 15);

svg.append("text")
  .attr("x", 1088).attr("y", 427)
  .attr("text-anchor", "middle")
  .attr("font-family", SERIF).attr("font-size", 17)
  .attr("font-weight", "bold").attr("font-style", "italic")
  .attr("fill", "#ff9320")
  .text("Data2 MAE");

svg.append("rect")
  .attr("x", 890).attr("y", 417).attr("width", 102).attr("height", 43).attr("rx", 3)
  .attr("fill", "#fff").attr("stroke", "#d0d0d0");
[["Large Data", "#1010ff"], ["Small Data", "#ff8c0a"]].forEach(function(e, i) {
  var yy = 427.7 + i * 19.6;
  svg.append("line")
    .attr("x1", 894).attr("x2", 922).attr("y1", yy).attr("y2", yy)
    .attr("stroke", e[1]).attr("stroke-width", 1.5);
  svg.append("circle").attr("cx", 908).attr("cy", yy).attr("r", 4).attr("fill", e[1]);
  svg.append("text")
    .attr("x", 930).attr("y", yy).attr("dy", "0.35em")
    .attr("font-family", SERIF).attr("font-size", 13)
    .text(e[0]);
});
</script>
</body>
</html>
